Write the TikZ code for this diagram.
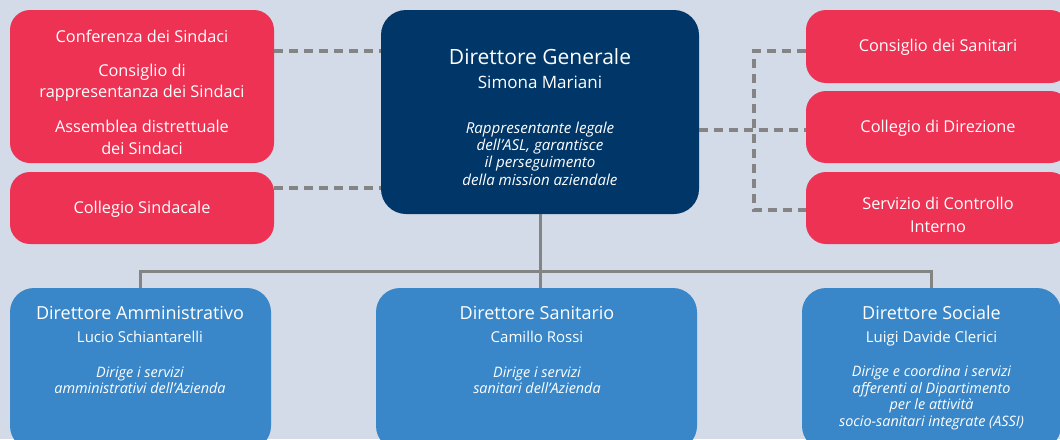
\documentclass[tikz,border=0pt]{standalone}
\usepackage{fontspec}
\setmainfont{Open Sans}
\definecolor{bgc}{HTML}{D4DBE8}
\definecolor{redc}{HTML}{EE3253}
\definecolor{navyc}{HTML}{003768}
\definecolor{bluec}{HTML}{3987C8}
\definecolor{greyc}{HTML}{848484}
\begin{document}
\begin{tikzpicture}[x=1pt,y=-1pt,
  boxbase/.style={rectangle, inner sep=0pt, draw=none},
  redbox/.style={boxbase, fill=redc, rounded corners=20pt},
  navybox/.style={boxbase, fill=navyc, rounded corners=25pt},
  bluebox/.style={boxbase, fill=bluec, rounded corners=24pt},
  txt/.style={text=white, inner sep=0pt, anchor=base},
  redtxt/.style={txt, font=\fontsize{16.3}{20}\selectfont},
  bigtitle/.style={txt, font=\fontsize{21}{25}\selectfont},
  bigname/.style={txt, font=\fontsize{17}{20}\selectfont},
  subtitle/.style={txt, font=\fontsize{18}{22}\selectfont},
  subname/.style={txt, font=\fontsize{15}{18}\selectfont},
  desc/.style={txt, font=\fontsize{14.4}{17}\selectfont\itshape},
  bigdesc/.style={txt, font=\fontsize{15.1}{18}\selectfont\itshape},
  dl/.style={draw=greyc, line width=3.5pt, dash pattern=on 9pt off 6pt},
  conn/.style={draw=greyc, line width=3pt}
]
\useasboundingbox (0,0) rectangle (1060,439);
\clip (0,0) rectangle (1060,439);
\fill[bgc] (0,0) rectangle (1060,439);

% helper coordinates
\coordinate (ya) at (0,51);
\coordinate (yb) at (0,188);
\coordinate (yc) at (0,130);
\coordinate (yd) at (0,210);
\coordinate (vx) at (754,0);
\coordinate (bus) at (0,271);

% boxes
\node[redbox, minimum width=264pt, minimum height=153pt] (red1) at (142,86.5) {};
\node[redbox, minimum width=264pt, minimum height=72pt] (red2) at (142,208) {};
\node[navybox, minimum width=318pt, minimum height=204pt] (dg) at (540,112) {};
\node[redbox, minimum width=264pt, minimum height=73pt] (san) at (938,46.5) {};
\node[redbox, minimum width=264pt, minimum height=72pt] (dir) at (938,127) {};
\node[redbox, minimum width=264pt, minimum height=72pt] (sci) at (938,208) {};
\node[bluebox, minimum width=261pt, minimum height=162pt] (da) at (140.5,369) {};
\node[bluebox, minimum width=321pt, minimum height=162pt] (ds) at (536.5,369) {};
\node[bluebox, minimum width=259pt, minimum height=162pt] (dso) at (931.5,369) {};

% connectors
\draw[dl] (red1.east |- ya) -- (dg.west |- ya);
\draw[dl] (red2.east |- yb) -- (dg.west |- yb);
\draw[dl] (dg.east |- yc) -- (dir.west |- yc);
\draw[dl] (san.west |- ya) -| (vx |- yd) -- (sci.west |- yd);
\draw[conn] (dg.south) -- (dg.south |- ds.north);
\draw[conn] (da.north) |- (dso.north |- bus) -- (dso.north);

% left red texts
\node[redtxt] (t1) at (142,42) {Conferenza dei Sindaci};
\node[redtxt] (t2) at (142,76) {Consiglio di};
\node[redtxt] (t3) at (142,97) {rappresentanza dei Sindaci};
\node[redtxt] (t4) at (142,132) {Assemblea distrettuale};
\node[redtxt] (t5) at (142,154) {dei Sindaci};
\node[redtxt] (t6) at (142,213) {Collegio Sindacale};

% right red texts
\node[redtxt] (t7) at (938,51) {Consiglio dei Sanitari};
\node[redtxt] (t8) at (938,132) {Collegio di Direzione};
\node[redtxt] (t9) at (938,209) {Servizio di Controllo};
\node[redtxt] (t10) at (938,232) {Interno};

% direttore generale
\node[bigtitle] (t11) at (540,64) {Direttore Generale};
\node[bigname] (t12) at (540,88) {Simona Mariani};
\node[bigdesc] (t13) at (540,133) {Rappresentante legale};
\node[bigdesc] (t14) at (540,150.5) {dell’ASL, garantisce};
\node[bigdesc] (t15) at (540,167.5) {il perseguimento};
\node[bigdesc] (t16) at (540,185) {della mission aziendale};

% direttore amministrativo
\node[subtitle] (t17) at (140,319) {Direttore Amministrativo};
\node[subname] (t18) at (140,342) {Lucio Schiantarelli};
\node[desc] (t19) at (140,377) {Dirige i servizi};
\node[desc] (t20) at (140,393.5) {amministrativi dell’Azienda};

% direttore sanitario
\node[subtitle] (t21) at (537,319) {Direttore Sanitario};
\node[subname] (t22) at (537,342) {Camillo Rossi};
\node[desc] (t23) at (537,377) {Dirige i servizi};
\node[desc] (t24) at (537,393.5) {sanitari dell’Azienda};

% direttore sociale
\node[subtitle] (t25) at (931.5,319) {Direttore Sociale};
\node[subname] (t26) at (931.5,342) {Luigi Davide Clerici};
\node[desc] (t27) at (931.5,376.5) {Dirige e coordina i servizi};
\node[desc] (t28) at (931.5,393.3) {afferenti al Dipartimento};
\node[desc] (t29) at (931.5,409.5) {per le attività};
\node[desc] (t30) at (931.5,426.5) {socio-sanitari integrate (ASSI)};
\end{tikzpicture}
\end{document}
